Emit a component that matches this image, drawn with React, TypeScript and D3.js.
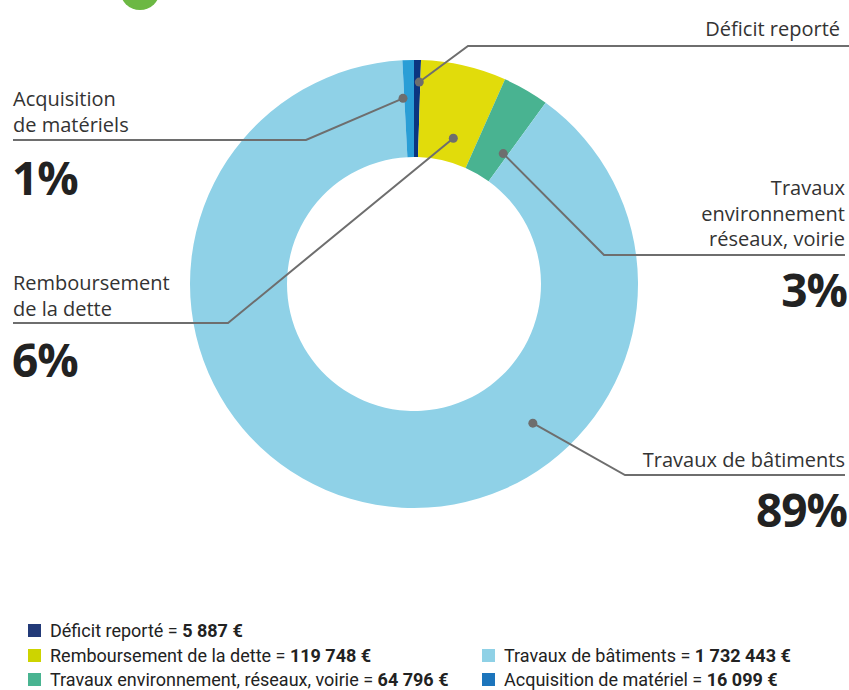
import React, { useEffect, useRef } from 'react';
import * as d3 from 'd3';

// Slice order clockwise from 12 o'clock
const categories = [
  'Déficit reporté',
  'Remboursement de la dette',
  'Travaux environnement, réseaux, voirie',
  'Travaux de bâtiments',
  'Acquisition de matériel',
];
const values = [5887, 119748, 64796, 1732443, 16099];
const amountLabels = ['5 887 €', '119 748 €', '64 796 €', '1 732 443 €', '16 099 €'];
const sliceColors = ['#0b3580', '#e1dc0b', '#49b391', '#8fd1e7', '#2a9ed6'];
const legendColors = ['#223a78', '#cdd400', '#49b491', '#8fd1e6', '#1c75bc'];

// Callout texts, one entry per slice
const calloutLines = [
  ['Déficit reporté'],
  ['Remboursement', 'de la dette'],
  ['Travaux', 'environnement', 'réseaux, voirie'],
  ['Travaux de bâtiments'],
  ['Acquisition', 'de matériels'],
];
const calloutPercents = ['', '6%', '3%', '89%', '1%'];

const W = 849;
const H = 690;

const App: React.FC = () => {
  const svgRef = useRef<SVGSVGElement>(null);

  useEffect(() => {
    document.body.style.margin = '0';
    if (!svgRef.current) return;
    const svg = d3.select(svgRef.current);
    svg.selectAll('*').remove();

    const cx = 414;
    const cy = 284;
    const outerR = 224;
    const innerR = 127;

    // small green badge cut off at the top
    svg.append('circle')
      .attr('cx', 140).attr('cy', -10).attr('r', 20)
      .attr('fill', '#6cb843');

    // tiny slices get a minimum visible width, like the original graphic
    const total = d3.sum(values);
    const pie = d3.pie<number>().sort(null).value((d) => Math.max(d, total * 0.005))(values);
    const arc = d3.arc<d3.PieArcDatum<number>>().innerRadius(innerR).outerRadius(outerR);

    const g = svg.append('g').attr('transform', `translate(${cx},${cy})`);
    g.selectAll('path.slice')
      .data(pie)
      .enter()
      .append('path')
      .attr('class', 'slice')
      .attr('d', arc)
      .attr('fill', (_, i) => sliceColors[i]);

    // Callout layout: dot position (radius + angle offset in degrees),
    // elbow, and line end / text anchor side
    const callouts = [
      { r: 202, da: 0.6, elbow: [468, 46], endX: 849, side: 'right', textX: 840, textY: 36, pctY: 0 },
      { r: 151, da: 2.2, elbow: [228, 323], endX: 13, side: 'left', textX: 13, textY: 290, pctY: 377 },
      { r: 158, da: 4.4, elbow: [604, 255], endX: 845, side: 'right', textX: 845, textY: 195, pctY: 307 },
      { r: 183, da: -57, elbow: [625, 475], endX: 845, side: 'right', textX: 845, textY: 467, pctY: 527 },
      { r: 186, da: -1.9, elbow: [306, 140], endX: 13, side: 'left', textX: 13, textY: 106, pctY: 195 },
    ];

    const lineColor = '#6e6e6e';
    const callG = svg.append('g');
    pie.forEach((p, i) => {
      const c = callouts[i];
      const mid = (p.startAngle + p.endAngle) / 2 + (c.da * Math.PI) / 180;
      const dx = cx + c.r * Math.sin(mid);
      const dy = cy - c.r * Math.cos(mid);
      const path = d3.path();
      path.moveTo(dx, dy);
      path.lineTo(c.elbow[0], c.elbow[1]);
      path.lineTo(c.endX, c.elbow[1]);
      callG.append('path')
        .attr('d', path.toString())
        .attr('fill', 'none')
        .attr('stroke', lineColor)
        .attr('stroke-width', 2);
      callG.append('circle')
        .attr('cx', dx).attr('cy', dy).attr('r', 4.5)
        .attr('fill', lineColor);

      const anchor = c.side === 'right' ? 'end' : 'start';
      const t = callG.append('text')
        .attr('x', c.textX)
        .attr('y', c.textY)
        .attr('text-anchor', anchor)
        .attr('font-family', '"Open Sans", sans-serif')
        .attr('font-size', 20)
        .attr('fill', '#333');
      calloutLines[i].forEach((ln, j) => {
        t.append('tspan').attr('x', c.textX).attr('dy', j === 0 ? 0 : 25.5).text(ln);
      });
      if (calloutPercents[i]) {
        callG.append('text')
          .attr('x', c.side === 'right' ? c.textX + 2 : c.textX - 1)
          .attr('y', c.pctY)
          .attr('text-anchor', anchor)
          .attr('font-family', '"Open Sans", sans-serif')
          .attr('font-weight', 700)
          .attr('font-size', 46)
          .attr('letter-spacing', -1)
          .attr('fill', '#222')
          .text(calloutPercents[i]);
      }
    });

    // Legend
    const legendPos = [
      { x: 28, y: 637 },
      { x: 28, y: 662 },
      { x: 28, y: 686 },
      { x: 482, y: 662 },
      { x: 482, y: 686 },
    ];
    const legG = svg.append('g');
    categories.forEach((cat, i) => {
      const lp = legendPos[i];
      legG.append('rect')
        .attr('x', lp.x).attr('y', lp.y - 13)
        .attr('width', 13).attr('height', 13)
        .attr('fill', legendColors[i]);
      const t = legG.append('text')
        .attr('x', lp.x + 22)
        .attr('y', lp.y)
        .attr('font-family', '"Liberation Sans Narrow", "Roboto", sans-serif')
        .attr('font-size', 18)
        .attr('fill', '#222');
      t.append('tspan').text(`${cat} = `);
      t.append('tspan').attr('font-weight', 700).text(amountLabels[i]);
    });
  }, []);

  return <svg ref={svgRef} width={W} height={H} style={{ display: 'block' }} />;
};

export default App;
